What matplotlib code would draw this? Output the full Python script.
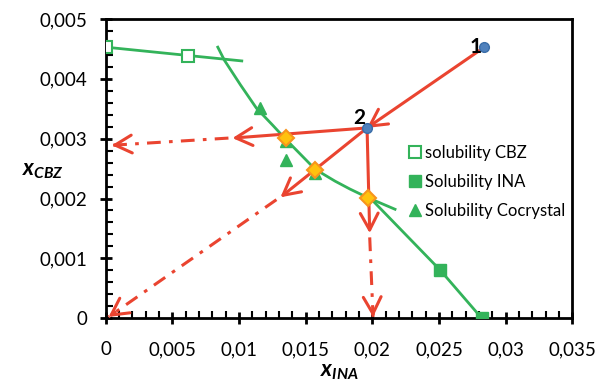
import matplotlib
matplotlib.use('Agg')
import matplotlib.pyplot as plt
from matplotlib.ticker import MultipleLocator, FuncFormatter
import numpy as np

plt.rcParams['font.family'] = ['Lato', 'DejaVu Sans']
plt.rcParams['mathtext.fontset'] = 'custom'
plt.rcParams['mathtext.it'] = 'Lato:bold:italic'
plt.rcParams['mathtext.rm'] = 'Lato:bold'

# solubility data
cbz_x = [0.0, 0.0062]
cbz_y = [0.00453, 0.00438]
cbz_line_x = [0.0, 0.0102]
cbz_line_y = [0.00453, 0.0043]

ina_x = [0.0251, 0.0282]
ina_y = [0.0008, 0.0]
ina_line_x = [0.0200, 0.0251, 0.0282]
ina_line_y = [0.00197, 0.0008, 0.0]

cocr_x = [0.0116, 0.0135, 0.0135, 0.0157]
cocr_y = [0.00351, 0.00264, 0.00296, 0.00243]
cocr_line_x = [0.0084, 0.0089, 0.0101, 0.0113, 0.0125, 0.0135, 0.0146,
               0.0157, 0.0172, 0.0183, 0.0197, 0.0217]
cocr_line_y = [0.00453, 0.00431, 0.0039, 0.00351, 0.00323, 0.00299, 0.00274,
               0.00249, 0.00229, 0.00216, 0.00201, 0.00182]

# state points 1 and 2
pts_x = [0.0284, 0.0196]
pts_y = [0.00453, 0.00318]
pts_lbl = ['1', '2']

# intersections (diamonds)
dia_x = [0.0135, 0.0157, 0.0197]
dia_y = [0.00301, 0.00247, 0.00201]

# solid arrows: start -> end
solid_start = [(0.0284, 0.00453), (0.0196, 0.00318), (0.0196, 0.00318), (0.0196, 0.00318)]
solid_end = [(0.0196, 0.00318), (0.0095, 0.00301), (0.0131, 0.00202), (0.0198, 0.00142)]
# dash-dot arrows
dash_start = [(0.0092, 0.00301), (0.0128, 0.00198), (0.0198, 0.00135)]
dash_end = [(0.00045, 0.00289), (0.0002, 0.00002), (0.02005, 0.00002)]

red = '#EA4430'
green = '#33B35A'

fig = plt.figure(figsize=(5.98, 3.81), dpi=100)
ax = fig.add_axes([0.177, 0.165, 0.78, 0.785])

ax.plot(cbz_line_x, cbz_line_y, color=green, lw=2, zorder=2)
ax.plot(cocr_line_x, cocr_line_y, color=green, lw=2, zorder=2)
ax.plot(ina_line_x, ina_line_y, color=green, lw=2, zorder=2)

ax.plot(cbz_x, cbz_y, ls='none', marker='s', ms=9, mfc='white', mec=green,
        mew=1.5, zorder=3, label='solubility CBZ')
ax.plot(ina_x, ina_y, ls='none', marker='s', ms=9, color=green, zorder=3,
        label='Solubility INA')
ax.plot(cocr_x, cocr_y, ls='none', marker='^', ms=9, color=green, zorder=3,
        label='Solubility Cocrystal')

head = '->,head_length=0.6,head_width=0.32'
for s, e in zip(solid_start, solid_end):
    ax.annotate('', xy=e, xytext=s,
                arrowprops=dict(arrowstyle=head, color=red, lw=2.2,
                                mutation_scale=20, shrinkA=0, shrinkB=0),
                zorder=4)

for s, e in zip(dash_start, dash_end):
    ax.plot([s[0], e[0]], [s[1], e[1]], color=red, lw=2.2,
            ls=(0, (4.5, 2.7, 1.2, 2.7)), zorder=4)
    # short solid piece so the head is drawn solid
    t = 0.04
    tail = (e[0] + (s[0] - e[0]) * t, e[1] + (s[1] - e[1]) * t)
    ax.annotate('', xy=e, xytext=tail,
                arrowprops=dict(arrowstyle=head, color=red, lw=2.2,
                                mutation_scale=20, shrinkA=0, shrinkB=0),
                zorder=4)

ax.plot(dia_x, dia_y, ls='none', marker='D', ms=8, mfc='#FFC20E',
        mec='#F7941D', mew=1.5, zorder=5)
ax.plot(pts_x, pts_y, ls='none', marker='o', ms=7, mfc='#4F81BD',
        mec='#3A6DA8', zorder=6)
ax.text(pts_x[0] - 0.0002, pts_y[0] + 0.00001, pts_lbl[0], ha='right',
        va='center', fontsize=15, fontweight='bold', zorder=7)
ax.text(pts_x[1] - 0.0006, pts_y[1] + 0.00017, pts_lbl[1], ha='center',
        va='center', fontsize=15, fontweight='bold', zorder=7)

ax.set_xlim(0, 0.035)
ax.set_ylim(0, 0.005)
ax.xaxis.set_major_locator(MultipleLocator(0.005))
ax.xaxis.set_minor_locator(MultipleLocator(0.001))
ax.yaxis.set_major_locator(MultipleLocator(0.001))
ax.yaxis.set_minor_locator(MultipleLocator(0.0002))
fmt = FuncFormatter(lambda v, p: '{:g}'.format(round(v, 6)).replace('.', ','))
ax.xaxis.set_major_formatter(fmt)
ax.yaxis.set_major_formatter(fmt)
ax.tick_params(which='major', direction='inout', length=9, width=2,
               labelsize=13.5)
ax.tick_params(axis='x', which='major', pad=12)
ax.tick_params(axis='y', which='major', pad=9)
ax.tick_params(which='minor', direction='in', length=5, width=1.5)
for sp in ax.spines.values():
    sp.set_linewidth(2)

ax.set_xlabel(r'$x_{INA}$', fontsize=16)
ax.set_ylabel(r'$x_{CBZ}$', fontsize=16, rotation=0)
ax.xaxis.set_label_coords(0.5, -0.145)
ax.yaxis.set_label_coords(-0.135, 0.46)

ax.legend(loc='upper left', bbox_to_anchor=(0.65, 0.58), frameon=False,
          fontsize=12, handlelength=0.7, handletextpad=0.25, labelspacing=0.8,
          borderpad=0, borderaxespad=0)

fig.savefig('out.png', dpi=100)
